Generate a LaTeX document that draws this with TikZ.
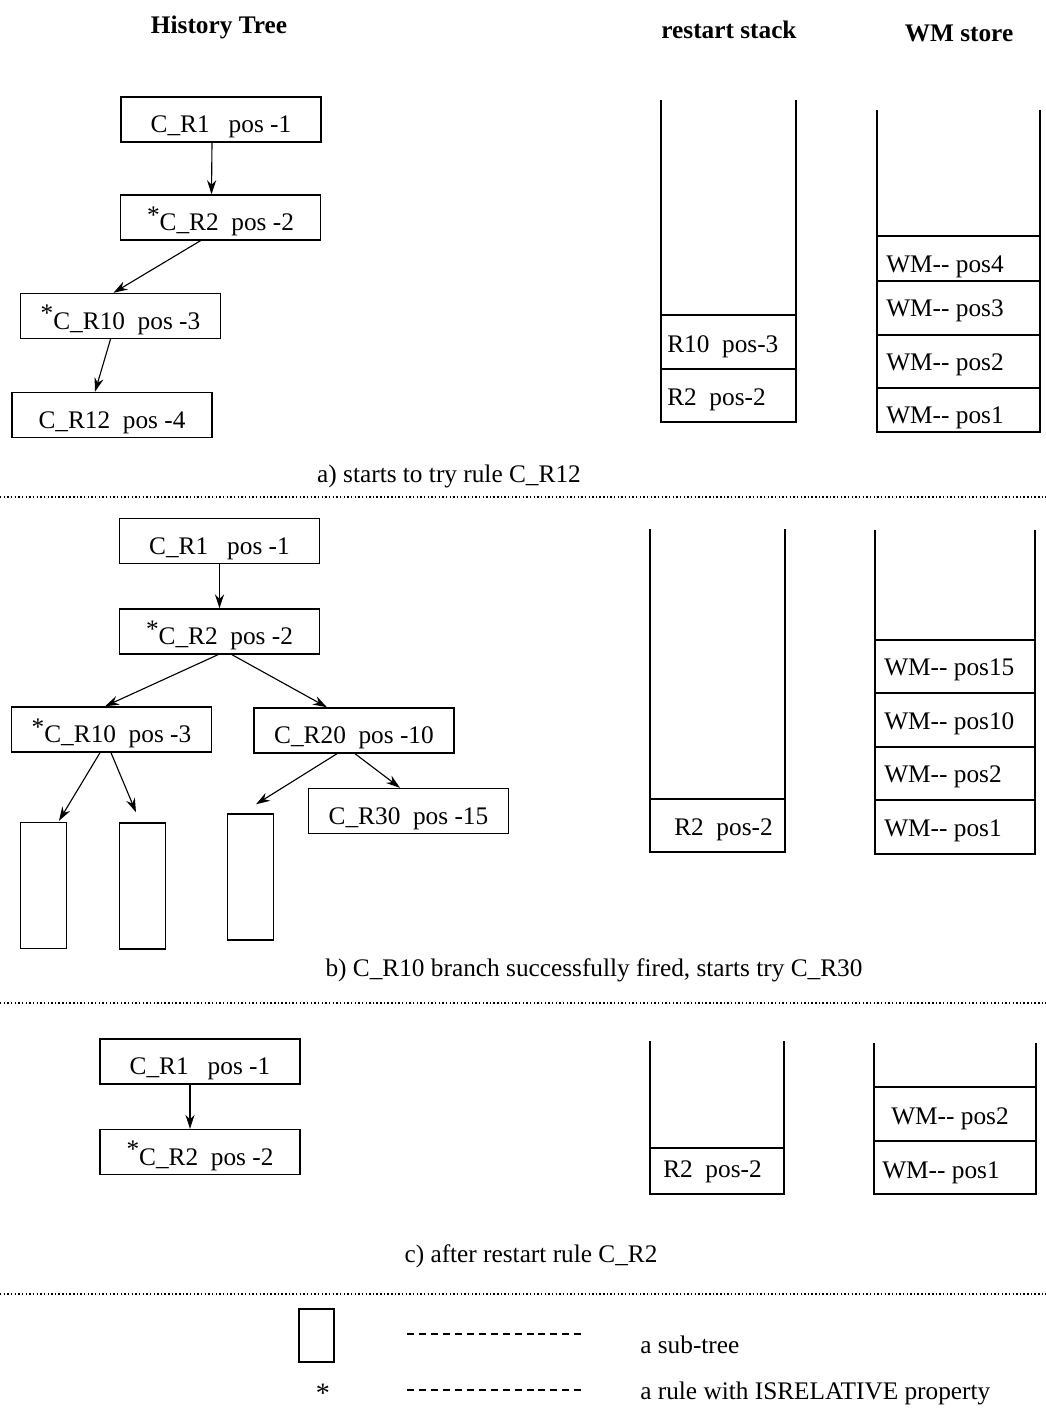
\documentclass[tikz,border=0pt]{standalone}
\usepackage{fontspec}
\setmainfont{Liberation Serif}
\usetikzlibrary{calc, arrows.meta}
\tikzset{
  rule box/.style={draw, line width=1pt, inner sep=0pt, minimum width=50mm, minimum height=11.25mm,
    text height=19pt, text depth=0pt},
  subtree box/.style={draw, line width=1pt, inner sep=0pt, minimum width=11.5mm, minimum height=31.5mm},
  stack line/.style={line width=1pt},
  stack entry/.style={anchor=base west, inner sep=0pt},
  tree arrow/.style={-{Stealth[length=10pt, width=6.5pt]}, line width=0.8pt},
  section line/.style={line width=0.8pt, dash pattern=on 1pt off 1.6pt},
  legend line/.style={line width=0.8pt, dash pattern=on 5pt off 3.5pt},
  every node/.style={font=\fontsize{18}{21}\selectfont},
}
\newcommand{\relStar}{\raisebox{.3em}{*}}
\newcommand{\drawStack}[5]{
  \draw[stack line] (#1,#3) |- (#2,#4) -- (#2,#3);
  \foreach \yy in {#5} \draw[stack line] (#1,\yy) -- (#2,\yy);
}

\begin{document}
\begin{tikzpicture}[x=0.25mm, y=-0.25mm]
  \useasboundingbox (0,0) rectangle (1046,1410);
  % column titles
  \node[font=\fontsize{18}{21}\selectfont\bfseries] (histtitle) at (219,27) {History Tree};
  \node[font=\fontsize{18}{21}\selectfont\bfseries] (resttitle) at (729,30) {restart stack};
  \node[font=\fontsize{18}{21}\selectfont\bfseries] (wmtitle) at (959,33) {WM store};

  % a) history tree
  \node[rule box] (a1) at (221,119.5) {C\_R1~~~pos -1};
  \node[rule box] (a2) at (220.5,217.5) {\relStar C\_R2~~pos -2};
  \node[rule box] (a3) at (120.5,316) {\relStar C\_R10~~pos -3};
  \node[rule box] (a4) at (112,415) {C\_R12~~pos -4};
  \draw[tree arrow] ([shift={(-9,0)}]a1.south) -- ([shift={(-9,0)}]a2.north);
  \draw[tree arrow] ([shift={(-20,0)}]a2.south) -- ([shift={(-7,0)}]a3.north);
  \draw[tree arrow] ([shift={(-10,0)}]a3.south) -- ([shift={(-17,0)}]a4.north);
  % a) stacks
  \drawStack{661}{796}{100}{422}{315,369}
  \node[stack entry] (ar1) at (667,352) {R10~~pos-3};
  \node[stack entry] (ar2) at (667,405) {R2~~pos-2};
  \drawStack{877}{1040}{110}{432}{236,281,335,388}
  \node[stack entry] (aw4) at (886,272) {WM-{}- pos4};
  \node[stack entry] (aw3) at (886,316) {WM-{}- pos3};
  \node[stack entry] (aw2) at (886,370) {WM-{}- pos2};
  \node[stack entry] (aw1) at (886,423) {WM-{}- pos1};
  \node (capa) at (449,476) {a) starts to try rule C\_R12};
  \draw[section line] (0,497) -- (1046,497);

  % b) history tree
  \node[rule box] (b1) at (219.5,541) {C\_R1~~~pos -1};
  \node[rule box] (b2) at (219.5,631.5) {\relStar C\_R2~~pos -2};
  \node[rule box] (b3) at (111.5,729.5) {\relStar C\_R10~~pos -3};
  \node[rule box] (b4) at (354,730.5) {C\_R20~~pos -10};
  \node[rule box] (b5) at (408.5,811) {C\_R30~~pos -15};
  \node[subtree box] (s1) at (43.5,885.5) {};
  \node[subtree box] (s2) at (142.5,886) {};
  \node[subtree box] (s3) at (250.5,877) {};
  \draw[tree arrow] (b1) -- (b2);
  \draw[tree arrow] ([shift={(-1.5,0)}]b2.south) -- ([shift={(-6.5,0)}]b3.north);
  \draw[tree arrow] ([shift={(12.5,0)}]b2.south) -- ([shift={(-27,0)}]b4.north);
  \draw[tree arrow] ([shift={(-11.5,0)}]b3.south) -- ([shift={(15.5,-1)}]s1.north);
  \draw[tree arrow] ([shift={(-0.5,0)}]b3.south) -- ([shift={(-6.5,-10)}]s2.north);
  \draw[tree arrow] ([shift={(-17,0)}]b4.south) -- ([shift={(5.5,-9)}]s3.north);
  \draw[tree arrow] ([shift={(1,0)}]b4.south) -- ([shift={(-8.5,0)}]b5.north);
  % b) stacks
  \drawStack{650}{785}{529}{852}{799}
  \node[stack entry] (br1) at (674,835) {R2~~pos-2};
  \drawStack{875}{1035}{530}{854}{640,693,747,800}
  \node[stack entry] (bw4) at (884,675) {WM-{}- pos15};
  \node[stack entry] (bw3) at (884,729) {WM-{}- pos10};
  \node[stack entry] (bw2) at (884,782) {WM-{}- pos2};
  \node[stack entry] (bw1) at (884,836) {WM-{}- pos1};
  \node (capb) at (594,970) {b) C\_R10 branch successfully fired, starts try C\_R30};
  \draw[section line] (0,1003) -- (1046,1003);

  % c) history tree
  \node[rule box] (c1) at (200,1061.5) {C\_R1~~~pos -1};
  \node[rule box] (c2) at (200,1152) {\relStar C\_R2~~pos -2};
  \draw[tree arrow] ([shift={(-10,0)}]c1.south) -- ([shift={(-10,0)}]c2.north);
  % c) stacks
  \drawStack{650}{784}{1041}{1194}{1148}
  \node[stack entry] (cr1) at (663,1177) {R2~~pos-2};
  \drawStack{874}{1036}{1043}{1194}{1087,1141}
  \node[stack entry] (cw2) at (891,1124) {WM-{}- pos2};
  \node[stack entry] (cw1) at (882,1178) {WM-{}- pos1};
  \node (capc) at (531,1256) {c) after restart rule C\_R2};
  \draw[section line] (0,1294) -- (1046,1294);

  % legend
  \node[subtree box, minimum width=8.75mm, minimum height=13.25mm] (legtree) at (316.5,1335.5) {};
  \node[anchor=base, inner sep=0pt, font=\fontsize{20}{22}\selectfont] (legstar) at (323,1402) {*};
  \draw[legend line] (407,1334) -- (586,1334);
  \draw[legend line] (407,1390) -- (586,1390);
  \node[stack entry] (legtreetext) at (640,1353) {a sub-tree};
  \node[stack entry] (legstartext) at (640,1399) {a rule with ISRELATIVE property};
\end{tikzpicture}
\end{document}
